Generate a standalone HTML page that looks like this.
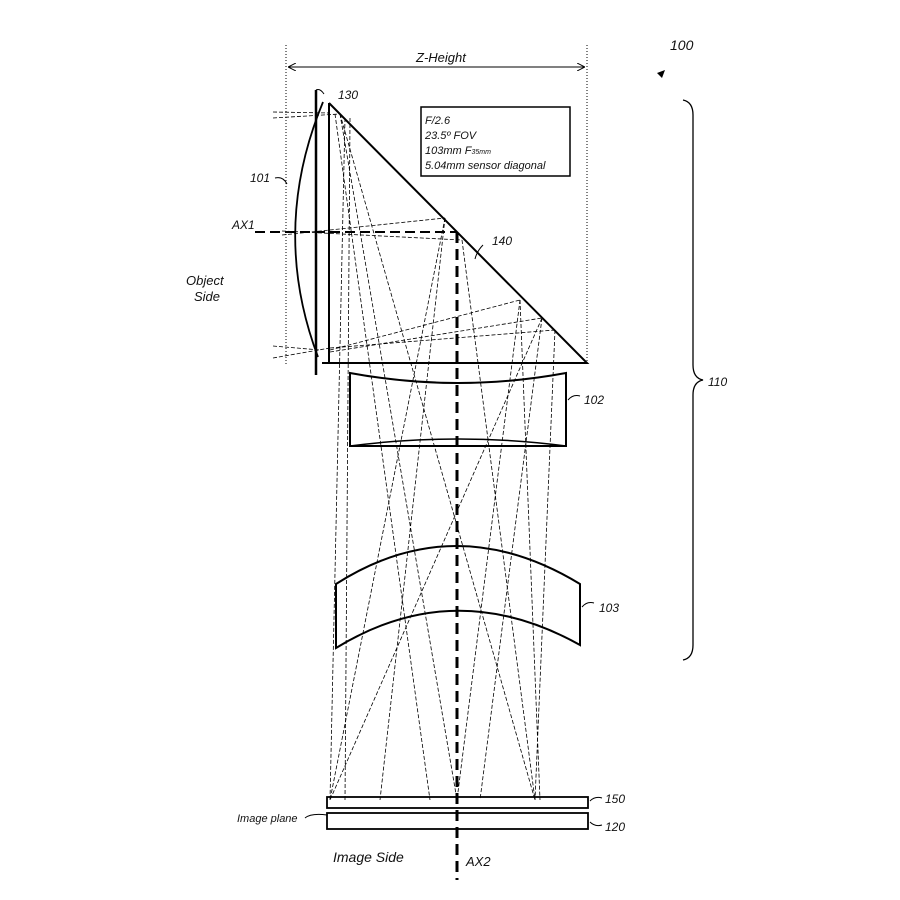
<!DOCTYPE html>
<html><head><style>body{margin:0;background:#fff}svg{display:block}text{font-family:"Liberation Sans",sans-serif;font-style:italic;fill:#111}</style></head>
<body>
<svg width="900" height="900" viewBox="0 0 900 900">
<defs><marker id="ah" markerWidth="8" markerHeight="8" refX="7" refY="4" orient="auto"><path d="M0,0L8,4L0,8" fill="none" stroke="#000"/></marker>
<marker id="ah2" markerWidth="8" markerHeight="8" refX="1" refY="4" orient="auto"><path d="M8,0L0,4L8,8" fill="none" stroke="#000"/></marker></defs>
<g stroke="#000" fill="none">
<line x1="286" y1="45" x2="286" y2="365" stroke-dasharray="1,2" stroke-width="1"/>
<line x1="587" y1="45" x2="587" y2="365" stroke-dasharray="1,2" stroke-width="1"/>
<line x1="289" y1="67" x2="584" y2="67" marker-start="url(#ah2)" marker-end="url(#ah)"/>
<!-- rays -->
<g stroke-width="0.8" stroke-dasharray="4,2">
<line x1="273" y1="112" x2="330" y2="113"/><line x1="273" y1="118" x2="340" y2="114"/>
<line x1="273" y1="346" x2="320" y2="350"/><line x1="273" y1="358" x2="330" y2="348"/>
<line x1="282" y1="235" x2="445" y2="218"/><line x1="282" y1="231" x2="462" y2="240"/>
<line x1="330" y1="350" x2="520" y2="300"/><line x1="330" y1="352" x2="542" y2="318"/><line x1="330" y1="348" x2="555" y2="330"/>
<line x1="340" y1="114" x2="457" y2="800"/><line x1="340" y1="114" x2="535" y2="800"/><line x1="335" y1="114" x2="430" y2="800"/>
<line x1="345" y1="118" x2="330" y2="800"/><line x1="350" y1="118" x2="345" y2="800"/>
<line x1="445" y1="218" x2="330" y2="800"/><line x1="462" y1="240" x2="535" y2="800"/><line x1="445" y1="218" x2="380" y2="800"/>
<line x1="520" y1="300" x2="457" y2="800"/><line x1="542" y1="318" x2="330" y2="800"/><line x1="555" y1="330" x2="535" y2="800"/>
<line x1="520" y1="300" x2="540" y2="800"/><line x1="542" y1="318" x2="480" y2="800"/>
</g>
<!-- prism -->
<path d="M329,103 L587,363 L322,363 M329,103 L329,363" stroke-width="2"/>
<line x1="316" y1="90" x2="316" y2="375" stroke-width="2.5"/>
<path d="M316,90 q4,-2 8,4" stroke-width="1"/>
<path d="M323,102 Q270,230 318,357" stroke-width="1.8"/>
<rect x="421" y="107" width="149" height="69" stroke-width="1.5"/>
<line x1="255" y1="232" x2="457" y2="232" stroke-width="2" stroke-dasharray="10,5"/>
<line x1="457" y1="232" x2="457" y2="880" stroke-width="3" stroke-dasharray="11,6"/>
<!-- lens 102 -->
<path d="M350,373 Q458,393 566,373 L566,446 L350,446 Z" stroke-width="2"/>
<path d="M350,446 Q458,432 566,446" stroke-width="1.5"/>
<!-- lens 103 -->
<path d="M336,584 Q455,508 580,584 L580,645 Q455,575 336,648 Z" stroke-width="2"/>
<rect x="327" y="797" width="261" height="11" stroke-width="1.8"/>
<rect x="327" y="813" width="261" height="16" stroke-width="1.8"/>
<!-- brace -->
<path d="M683,100 Q693,102 693,115 L693,365 Q693,378 703,380 Q693,382 693,395 L693,645 Q693,658 683,660" stroke-width="1.3"/>
<!-- leaders -->
<path d="M275,178 q8,-2 12,6" stroke-width="1"/>
<path d="M483,245 q-6,6 -8,14" stroke-width="1"/>
<path d="M568,400 q5,-6 12,-4" stroke-width="1"/>
<path d="M582,607 q5,-6 12,-4" stroke-width="1"/>
<path d="M590,801 q5,-5 12,-3" stroke-width="1"/>
<path d="M590,822 q5,5 12,3" stroke-width="1"/>
<path d="M305,818 q6,-5 22,-3" stroke-width="1"/>
</g>
<path d="M657,73 l8,-3 -3,8z" fill="#000"/>
<text x="416" y="62" font-size="13">Z-Height</text>
<text x="670" y="50" font-size="14">100</text>
<text x="338" y="99" font-size="12">130</text>
<text x="250" y="182" font-size="12">101</text>
<text x="232" y="229" font-size="12">AX1</text>
<text x="492" y="245" font-size="12">140</text>
<text x="186" y="285" font-size="13">Object</text>
<text x="194" y="301" font-size="13">Side</text>
<text x="584" y="404" font-size="12">102</text>
<text x="599" y="612" font-size="12">103</text>
<text x="708" y="386" font-size="12">110</text>
<text x="605" y="803" font-size="12">150</text>
<text x="605" y="831" font-size="12">120</text>
<text x="237" y="822" font-size="11">Image plane</text>
<text x="333" y="862" font-size="14">Image Side</text>
<text x="466" y="866" font-size="13">AX2</text>
<text x="425" y="124" font-size="11">F/2.6</text>
<text x="425" y="139" font-size="11">23.5º FOV</text>
<text x="425" y="154" font-size="11">103mm F<tspan font-size="7">35mm</tspan></text>
<text x="425" y="169" font-size="11">5.04mm sensor diagonal</text>
</svg>
</body></html>
